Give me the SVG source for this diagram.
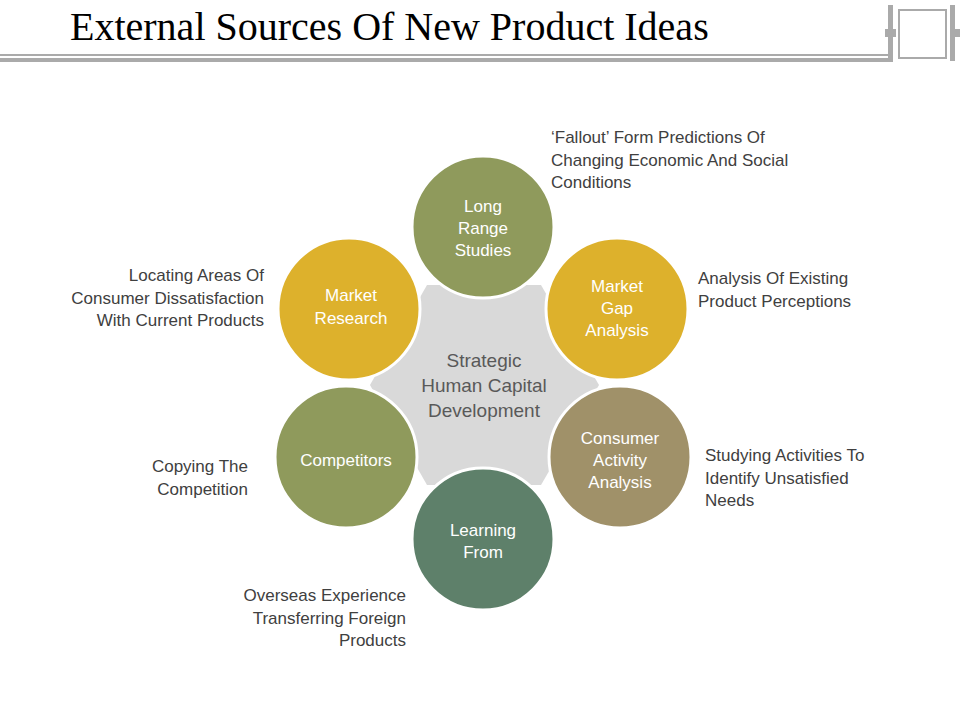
<svg xmlns="http://www.w3.org/2000/svg" width="960" height="720" viewBox="0 0 960 720">
<style>
.c{stroke:#fff;stroke-width:3}
.w{font-family:"Liberation Sans",Arial,sans-serif;font-size:17px;fill:#fff;text-anchor:middle}
.d{font-family:"Liberation Sans",Arial,sans-serif;font-size:17px;fill:#404040}
</style>
<rect width="960" height="720" fill="#fff"/>
<g id="header">
<text x="70" y="40" font-family="Liberation Serif,serif" font-size="40" fill="#000">External Sources Of New Product Ideas</text>
<rect x="0" y="54" width="888" height="2" fill="#aaa"/>
<rect x="0" y="58" width="893" height="4" fill="#aaa"/>
<rect x="888" y="5" width="5" height="57" fill="#aaa"/>
<rect x="885" y="29" width="11" height="8" fill="#aaa"/>
<rect x="899" y="10" width="47" height="48" fill="none" stroke="#aaa" stroke-width="2"/>
<rect x="950" y="5" width="5" height="56" fill="#aaa"/>
<rect x="950" y="29" width="10" height="8" fill="#aaa"/>
</g>
<g id="center">
<polygon points="599,385 541,485 427,485 370,385 427,285 541,285" fill="#d9d9d9"/>
<text x="484" y="367" text-anchor="middle" font-family="Liberation Sans,sans-serif" font-size="19" fill="#595959">Strategic<tspan x="484" dy="25">Human Capital</tspan><tspan x="484" dy="25">Development</tspan></text>
</g>
<g id="long-range">
<circle class="c" cx="483" cy="227" r="71" fill="#8f9a5c"/>
<text class="w" x="483" y="212">Long<tspan x="483" dy="22">Range</tspan><tspan x="483" dy="22">Studies</tspan></text>
<text class="d" x="551" y="143">‘Fallout’ Form Predictions Of<tspan x="551" dy="23">Changing Economic And Social</tspan><tspan x="551" dy="22">Conditions</tspan></text>
</g>
<g id="market-gap">
<circle class="c" cx="617" cy="309" r="71" fill="#ddb12c"/>
<text class="w" x="617" y="292">Market<tspan x="617" dy="22">Gap</tspan><tspan x="617" dy="22">Analysis</tspan></text>
<text class="d" x="698" y="284">Analysis Of Existing<tspan x="698" dy="23">Product Perceptions</tspan></text>
</g>
<g id="consumer">
<circle class="c" cx="620" cy="457" r="71" fill="#a09169"/>
<text class="w" x="620" y="444">Consumer<tspan x="620" dy="22">Activity</tspan><tspan x="620" dy="22">Analysis</tspan></text>
<text class="d" x="705" y="461">Studying Activities To<tspan x="705" dy="23">Identify Unsatisfied</tspan><tspan x="705" dy="22">Needs</tspan></text>
</g>
<g id="learning">
<circle class="c" cx="483" cy="539" r="71" fill="#5e806a"/>
<text class="w" x="483" y="536">Learning<tspan x="483" dy="22">From</tspan></text>
<text class="d" text-anchor="end" x="406" y="601">Overseas Experience<tspan x="406" dy="23">Transferring Foreign</tspan><tspan x="406" dy="22">Products</tspan></text>
</g>
<g id="competitors">
<circle class="c" cx="346" cy="457" r="71" fill="#8f9a5c"/>
<text class="w" x="346" y="466">Competitors</text>
<text class="d" text-anchor="end" x="248" y="472">Copying The<tspan x="248" dy="23">Competition</tspan></text>
</g>
<g id="market-research">
<circle class="c" cx="349" cy="309" r="71" fill="#ddb12c"/>
<text class="w" x="351" y="301">Market<tspan x="351" dy="23">Research</tspan></text>
<text class="d" text-anchor="end" x="264" y="281">Locating Areas Of<tspan x="264" dy="23">Consumer Dissatisfaction</tspan><tspan x="264" dy="22">With Current Products</tspan></text>
</g>
<g id="connectors"></g>
</svg>
